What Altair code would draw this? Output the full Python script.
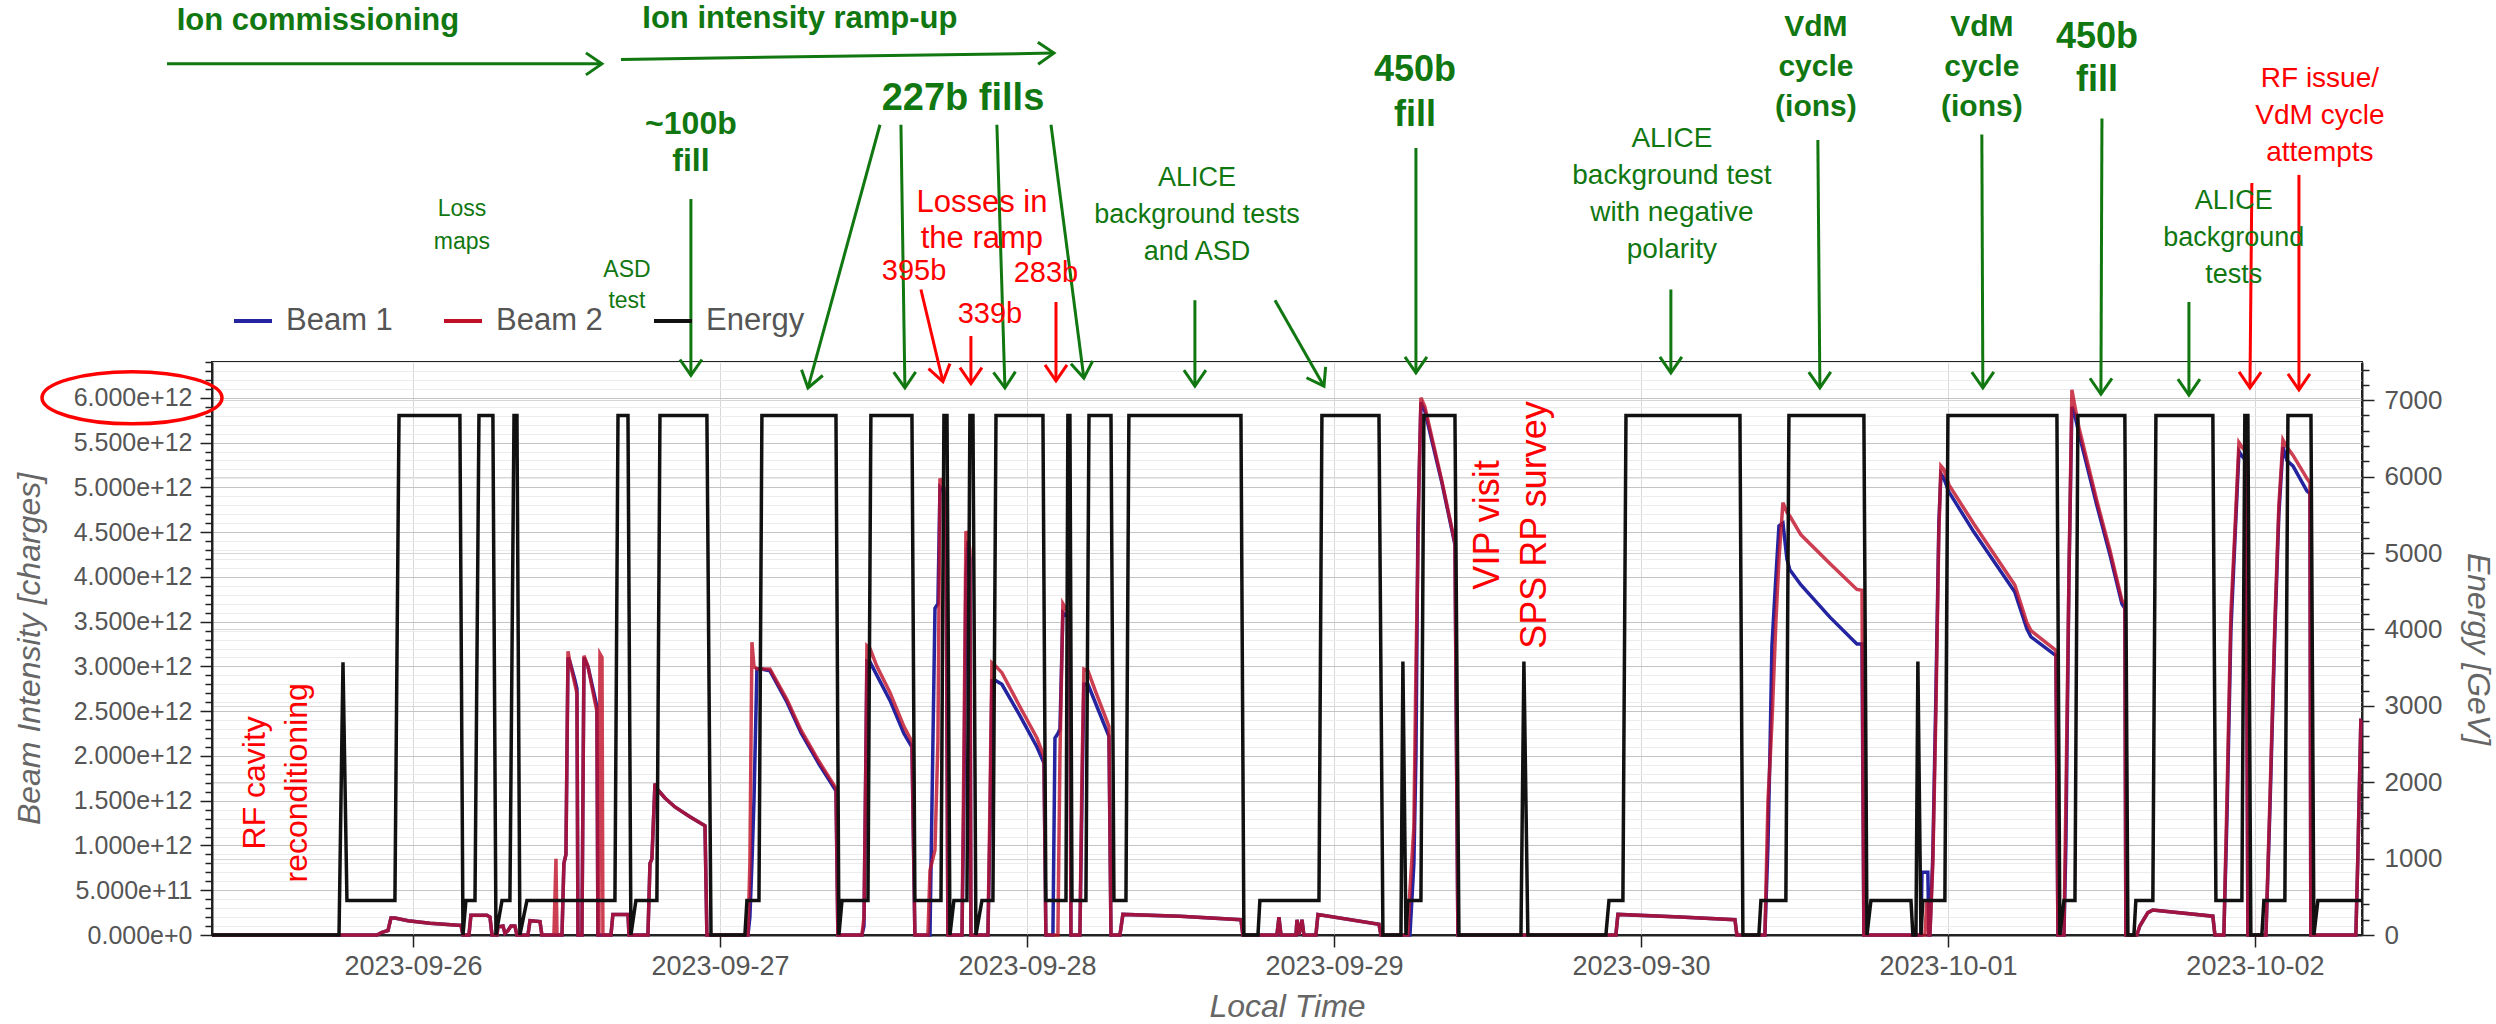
import math
import altair as alt
import pandas as pd

FONT = "Liberation Sans"
GREEN = "#117711"
RED = "#ff0000"
GREY = "#555555"

# time is stored as hours relative to 2023-09-26 00:00 (local time)
BASE = pd.Timestamp("2023-09-26 00:00:00")
X_START_H, X_END_H = -15.71, 152.37
Y_MAX_E12 = 6.4
E_MAX = 7500
W, H = 2150, 573

SERIES = ["Beam 1", "Beam 2", "Energy"]
SERIES_COLORS = ["#2424a0", "#c01028", "#111111"]

# ---------------- Energy [GeV]
E_HOURS = [-15.71, -5.78, -5.47, -5.16, -1.41, -1.09, 3.67, 3.91, 4.14, 4.85, 5.16, 6.25, 6.49, 6.96, 7.58,
           7.90, 8.13, 8.36, 8.91, 15.79, 16.03, 16.81, 17.04, 17.43, 19.07, 19.31, 22.98, 23.30, 25.95,
           26.11, 27.05, 27.28, 33.07, 33.30, 33.54, 35.57, 35.80, 39.01, 39.24, 41.28, 41.51, 41.75, 41.98,
           42.29, 43.31, 43.54, 43.78, 44.01, 44.48, 45.34, 45.58, 49.25, 49.48, 51.05, 51.20, 51.36, 51.52,
           52.61, 52.85, 54.57, 54.80, 55.74, 55.97, 64.73, 64.96, 66.06, 66.21, 70.83, 71.06, 75.52, 75.83,
           77.24, 77.39, 77.63, 77.78, 78.80, 79.03, 81.46, 81.77, 86.62, 86.85, 87.16, 93.26, 93.50, 94.59,
           94.83, 103.74, 103.97, 105.22, 105.38, 107.33, 107.57, 113.43, 113.67, 113.98, 117.11, 117.26,
           117.50, 117.65, 117.89, 118.04, 119.76, 120.00, 128.52, 128.75, 129.07, 129.93, 130.16, 133.83,
           134.07, 134.54, 134.69, 136.02, 136.26, 140.71, 140.95, 142.98, 143.21, 143.45, 143.68, 144.54,
           144.70, 146.34, 146.58, 148.38, 148.61, 148.92, 152.36]
E_GEV = [0, 0, 3570, 450, 450, 6800, 6800, 0, 450, 450, 6800, 6800, 0, 450, 450,
         6800, 6800, 0, 450, 450, 6800, 6800, 0, 450, 450, 6800, 6800, 0, 0,
         450, 450, 6800, 6800, 0, 450, 450, 6800, 6800, 450, 450, 6800, 6800, 0,
         450, 450, 6800, 6800, 0, 450, 450, 6800, 6800, 450, 450, 6800, 6800, 450,
         450, 6800, 6800, 450, 450, 6800, 6800, 0, 0, 450, 450, 6800, 6800, 0,
         0, 3580, 0, 450, 450, 6800, 6800, 0, 0, 3580, 0, 0, 450, 450,
         6800, 6800, 0, 0, 450, 450, 6800, 6800, 0, 450, 450, 0,
         0, 3580, 0, 450, 450, 6800, 6800, 0, 450, 450, 6800, 6800,
         0, 0, 450, 450, 6800, 6800, 450, 450, 6800, 6800, 0, 0,
         450, 450, 6800, 6800, 0, 450, 450]

# ---------------- Beam intensities [1e12 charges]
B_HOURS = [-15.71, -2.81, -2.42, -1.95, -1.72, -1.41, -0.39, 1.33, 3.52, 3.75, 3.91,
           4.38, 4.53, 5.78, 6.02, 6.18,
           6.57, 6.64, 7.04, 7.19, 7.43, 7.66, 7.97, 8.13,
           8.99, 9.15, 9.93, 10.08,
           11.02, 11.18, 11.26,
           11.65, 11.80, 11.96, 12.12, 12.27, 12.66, 12.82, 12.90,
           13.21, 13.37, 13.68, 14.23, 14.38, 14.46,
           14.54, 14.62, 14.78, 14.85,
           15.48, 15.63, 16.81, 16.89,
           18.37, 18.53, 18.68, 18.92, 19.15, 19.70, 20.48, 21.65, 22.83, 22.98,
           26.19, 26.34, 26.50, 26.66, 26.89, 27.28, 27.91, 29.24, 30.33, 31.74, 33.07, 33.22,
           35.10, 35.26, 35.41, 35.49, 35.73, 36.27, 37.29, 38.38, 39.01, 39.24,
           40.26, 40.42, 40.81, 41.04, 41.20, 41.51, 41.67, 41.82,
           42.92, 43.07, 43.23, 43.39, 43.54, 43.62,
           44.95, 45.11, 45.26, 45.58, 46.04, 47.45, 48.78, 49.33, 49.48,
           50.03, 50.19, 50.42, 50.58, 50.81, 51.20, 51.36, 51.44,
           52.14, 52.30, 52.45, 52.77, 53.39, 54.41, 54.57,
           55.27, 55.50, 59.96, 64.73, 64.88,
           67.54, 67.70, 67.86,
           69.03, 69.11, 69.26, 69.50, 69.65,
           70.59, 70.75, 75.52, 75.67,
           77.78, 77.94, 78.25, 78.41, 78.56, 78.64, 78.80, 79.11, 80.44, 81.46, 81.69,
           94.04, 94.20, 99.05, 103.35, 103.50,
           105.69, 105.93, 106.08, 106.24, 106.55, 106.79, 107.10, 107.41, 107.64, 108.51, 110.77, 112.88, 113.28, 113.43,
           117.89, 117.97, 118.20, 118.36, 118.43, 118.51,
           118.59, 118.82, 119.06, 119.29, 119.45, 119.68, 120.07, 122.03, 125.23, 126.17, 126.49, 128.44, 128.60,
           129.07, 129.22, 129.46, 129.69, 129.93, 130.24, 131.64, 132.66, 133.60, 133.83, 133.91,
           134.77, 135.00, 135.63, 136.02, 140.71, 140.87,
           141.57, 141.81, 142.12, 142.43, 142.75, 142.98, 143.29, 143.45,
           144.86, 145.17, 145.56, 145.87, 146.19, 146.50, 146.97, 148.06, 148.30, 148.37,
           151.89, 152.05, 152.28, 152.36]
B1_E12 = [0, 0, .03, .05, .19, .19, .16, .13, .11, .11, 0,
          0, .22, .22, .20, 0,
          0, .09, .10, .02, .05, .10, .10, 0,
          0, .16, .15, 0,
          0, 0, 0,
          0, .8, .9, 3.1, 3.05, 2.85, 2.75, 0,
          0, 3.1, 3.0, 2.65, 2.55, 0,
          0, 0, 0, 0,
          0, .23, .23, 0,
          0, .8, .85, 1.69, 1.62, 1.53, 1.43, 1.32, 1.22, 0,
          0, .2, .8, 1.5, 2.97, 2.97, 2.95, 2.6, 2.26, 1.91, 1.61, 0,
          0, .1, 2.0, 3.06, 3.05, 2.9, 2.62, 2.25, 2.10, 0,
          0, 0, 3.65, 3.7, 5.0, 4.95, 4.9, 0,
          0, 1.5, 4.0, 4.4, 4.2, 0,
          0, 1.2, 2.84, 2.84, 2.80, 2.45, 2.10, 1.92, 0,
          0, 2.2, 2.25, 2.3, 3.6, 3.55, 3.4, 0,
          0, 1.5, 2.80, 2.80, 2.58, 2.22, 0,
          0, .23, .21, .17, 0,
          0, .2, 0,
          0, .17, 0, .17, 0,
          0, .23, .12, 0,
          0, 0, .8, 2.0, 4.5, 5.0, 5.95, 5.85, 5.05, 4.36, 0,
          0, .23, .20, .17, 0,
          0, 1.0, 2.0, 3.23, 4.0, 4.57, 4.6, 4.2, 4.08, 3.91, 3.55, 3.25, 3.25, 0,
          0, .7, .7, .7, .7, 0,
          0, .9, 2.7, 4.6, 5.15, 5.1, 4.95, 4.5, 3.83, 3.42, 3.33, 3.12, 0,
          0, 1.0, 4.0, 5.9, 5.8, 5.6, 4.8, 4.25, 3.7, 3.65, 0,
          0, .1, .25, .28, .21, 0,
          0, 1.3, 3.4, 4.4, 5.4, 5.35, 5.3, 0,
          0, 1.4, 3.4, 4.7, 5.45, 5.3, 5.24, 4.96, 4.93, 0,
          0, .9, 2.4, 2.4]
B2_E12 = [0, 0, .03, .05, .19, .19, .16, .13, .11, .11, 0,
          0, .22, .22, .20, 0,
          0, .09, .10, .02, .05, .10, .10, 0,
          0, .16, .15, 0,
          0, .85, 0,
          0, .8, .9, 3.17, 3.05, 2.8, 2.7, 0,
          0, 3.12, 3.0, 2.6, 2.5, 0,
          0, 3.14, 3.1, 0,
          0, .23, .23, 0,
          0, .8, .85, 1.69, 1.62, 1.53, 1.43, 1.32, 1.22, 0,
          0, .8, 3.27, 3.0, 2.97, 2.97, 2.97, 2.63, 2.29, 1.94, 1.64, 0,
          0, .2, 2.0, 3.23, 3.2, 3.0, 2.71, 2.33, 2.16, 0,
          0, .72, .95, 2.16, 5.1, 5.0, 4.95, 0,
          0, 2.0, 4.51, 4.45, 4.3, 0,
          0, 1.5, 3.04, 3.0, 2.93, 2.55, 2.20, 1.99, 0,
          0, 0, 0, 2.0, 3.7, 3.6, 3.5, 0,
          0, 1.8, 2.97, 2.95, 2.71, 2.33, 0,
          0, .23, .21, .17, 0,
          0, .2, 0,
          0, .17, 0, .17, 0,
          0, .23, .12, 0,
          0, .5, 1.2, 3.0, 4.2, 5.0, 6.0, 5.9, 5.07, 4.38, 0,
          0, .23, .20, .17, 0,
          0, 1.5, 1.9, 2.37, 3.5, 4.2, 4.83, 4.72, 4.68, 4.47, 4.15, 3.86, 3.85, 0,
          0, 0, 0, .4, .3, 0,
          0, .8, 2.5, 4.5, 5.24, 5.2, 5.03, 4.59, 3.91, 3.49, 3.40, 3.18, 0,
          0, 1.5, 4.0, 6.09, 5.9, 5.67, 4.85, 4.3, 3.74, 3.7, 0,
          0, .1, .25, .28, .21, 0,
          0, 1.5, 3.6, 4.5, 5.5, 5.45, 5.4, 0,
          0, 1.5, 3.5, 4.8, 5.53, 5.45, 5.36, 5.1, 5.05, 0,
          0, .9, 2.4, 2.4]
assert len(B_HOURS) == len(B1_E12) == len(B2_E12)
assert len(E_HOURS) == len(E_GEV)

# ---------------- annotation arrows (tail -> tip), hours / 1e12-charge units
ARROW_TAIL_H = [-19.23, 16.26, 21.73, 36.51, 38.15, 45.65, 49.88, 39.71, 43.62, 50.27, 61.13, 67.39,
                78.41, 98.34, 109.83, 122.65, 132.04, 138.84, 143.76, 147.44]
ARROW_TAIL_I = [9.73, 9.78, 8.22, 9.05, 9.05, 9.05, 9.05, 7.21, 6.69, 7.07, 7.09, 7.09,
                8.79, 7.21, 8.88, 8.94, 9.12, 7.07, 8.40, 8.49]
ARROW_TIP_H = [14.77, 50.11, 21.73, 30.88, 38.46, 46.28, 52.45, 41.43, 43.62, 50.27, 61.13, 71.22,
               78.41, 98.34, 109.99, 122.73, 131.96, 138.84, 143.61, 147.44]
ARROW_TIP_I = [9.73, 9.85, 6.25, 6.11, 6.11, 6.11, 6.22, 6.18, 6.16, 6.19, 6.13, 6.13,
               6.28, 6.28, 6.11, 6.11, 6.04, 6.03, 6.11, 6.09]
ARROW_KIND = ["g", "g", "g", "g", "g", "g", "g", "r", "r", "r", "g", "g",
              "g", "g", "g", "g", "g", "g", "r", "r"]

# ---------------- annotation texts
TXT_LINES = [["Ion commissioning"], ["Ion intensity ramp-up"], ["~100b", "fill"], ["227b fills"],
             ["450b", "fill"], ["VdM", "cycle", "(ions)"], ["VdM", "cycle", "(ions)"], ["450b", "fill"],
             ["Loss", "maps"], ["ASD", "test"], ["ALICE", "background tests", "and ASD"],
             ["ALICE", "background test", "with negative", "polarity"], ["ALICE", "background", "tests"],
             ["Losses in", "the ramp"], ["395b"], ["339b"], ["283b"], ["RF issue/", "VdM cycle", "attempts"],
             ["RF cavity", "reconditioning"], ["VIP visit", "SPS RP survey"]]
TXT_H = [-7.43, 30.25, 21.73, 43.0, 78.33, 109.68, 122.65, 131.65,
         3.83, 16.73, 61.29, 98.42, 142.35,
         44.48, 39.17, 45.11, 49.48, 149.08,
         -10.71, 85.91]
TXT_I = [10.21, 10.23, 8.85, 9.34, 9.41, 9.70, 9.70, 9.79,
         7.93, 7.25, 8.04, 8.27, 7.78,
         7.97, 7.42, 6.94, 7.39, 9.15,
         1.70, 4.58]
TXT_SIZE = [31, 31, 32, 38, 36, 30, 30, 36,
            23, 23, 27, 28, 27,
            31, 29, 29, 29, 28,
            32, 36]
TXT_LH = [36, 36, 37, 40, 45, 40, 40, 43,
          33, 31, 37, 37, 37,
          36, 32, 32, 32, 37,
          42, 47]
TXT_KIND = ["bold", "bold", "bold", "bold", "bold", "bold", "bold", "bold",
            "green", "green", "green", "green", "green",
            "red", "red", "red", "red", "red",
            "redrot", "redrot"]

# ---------------- axis tick values
LEFT_TICKS = [k * 100000000000 for k in range(0, 65)]
RIGHT_TICKS = list(range(0, 7600, 200))

PX_PER_H = W / (X_END_H - X_START_H)
PX_PER_E12 = H / Y_MAX_E12


def to_time(hours):
    return [(BASE + pd.Timedelta(hours=float(h))).strftime("%Y-%m-%dT%H:%M:%S") for h in hours]


T0, T1 = to_time([X_START_H, X_END_H])

beam1 = pd.DataFrame({"time": to_time(B_HOURS), "value": [v * 1e12 for v in B1_E12], "series": "Beam 1"})
beam2 = pd.DataFrame({"time": to_time(B_HOURS), "value": [v * 1e12 for v in B2_E12], "series": "Beam 2"})
energy = pd.DataFrame({"time": to_time(E_HOURS), "energy": E_GEV, "series": "Energy"})

angles = []
for th, ti, ph, pi in zip(ARROW_TAIL_H, ARROW_TAIL_I, ARROW_TIP_H, ARROW_TIP_I):
    dx = (ph - th) * PX_PER_H
    dy = -(pi - ti) * PX_PER_E12
    angles.append(math.degrees(math.atan2(-dx, dy)) % 360)
arrows = pd.DataFrame({
    "time": to_time(ARROW_TAIL_H), "time2": to_time(ARROW_TIP_H),
    "value": [v * 1e12 for v in ARROW_TAIL_I], "value2": [v * 1e12 for v in ARROW_TIP_I],
    "tip_time": to_time(ARROW_TIP_H), "tip_value": [v * 1e12 for v in ARROW_TIP_I],
    "angle": angles, "kind": ARROW_KIND,
})

rows = []
for lines, h, i, s, lh, kind in zip(TXT_LINES, TXT_H, TXT_I, TXT_SIZE, TXT_LH, TXT_KIND):
    n = len(lines)
    for k, line in enumerate(lines):
        off = (k - (n - 1) / 2) * lh
        if kind == "redrot":
            hh, ii = h + off / PX_PER_H, i
        else:
            hh, ii = h, i - off / PX_PER_E12
        rows.append({"time": to_time([hh])[0], "value": ii * 1e12, "line": line, "size": s, "kind": kind})
texts = pd.DataFrame(rows)

# ---------------- encodings
MAJ_L = "datum.value % 500000000000 == 0"
MAJ_R = "datum.value % 1000 == 0"

x_axis = alt.Axis(
    title="Local Time", format="%Y-%m-%d", tickCount={"interval": "day", "step": 1},
    labelFontSize=27, labelColor=GREY, labelFont=FONT, labelPadding=6, labelFlush=False, labelOverlap=False,
    tickSize=12, tickColor="#222222", tickWidth=1.5, domainColor="#222222", domainWidth=2,
    gridColor="#d8d8d8", gridWidth=1,
    titleFontSize=32, titleFontStyle="italic", titleFontWeight="normal", titleColor="#666666", titleFont=FONT,
    titleY=71, titleBaseline="middle",
)
x_enc = alt.X("time:T", scale=alt.Scale(domain=[T0, T1]), axis=x_axis)

left_axis = alt.Axis(
    title="Beam Intensity [charges]", values=LEFT_TICKS, orient="left",
    labelExpr="datum.value % 500000000000 == 0 ? format(datum.value, '.3e') : ''",
    tickSize={"condition": {"test": MAJ_L, "value": 12}, "value": 7},
    gridColor={"condition": {"test": MAJ_L, "value": "#c4c4c4"}, "value": "#ececec"},
    grid=True, labelFontSize=25, labelColor=GREY, labelFont=FONT, labelPadding=8,
    labelOverlap=False, labelFlush=False,
    tickColor="#222222", tickWidth=1.5, domainColor="#222222", domainWidth=2,
    titleFontSize=32, titleFontStyle="italic", titleFontWeight="normal", titleColor="#666666", titleFont=FONT,
    titleX=-183, titleY=H / 2, titleAngle=270, titleAlign="center", titleBaseline="middle",
)
right_axis = alt.Axis(
    title="Energy [GeV]", values=RIGHT_TICKS, orient="right",
    labelExpr="datum.value % 1000 == 0 ? datum.value : ''",
    tickSize={"condition": {"test": MAJ_R, "value": 12}, "value": 7},
    gridOpacity={"condition": {"test": MAJ_R, "value": 1}, "value": 0},
    gridColor="#d6d6d6",
    grid=True, labelFontSize=26, labelColor=GREY, labelFont=FONT, labelPadding=10,
    labelOverlap=False, labelFlush=False,
    tickColor="#222222", tickWidth=1.5, domainColor="#222222", domainWidth=2,
    titleFontSize=32, titleFontStyle="italic", titleFontWeight="normal", titleColor="#666666", titleFont=FONT,
    titleX=115, titleY=H / 2, titleAngle=90, titleAlign="center", titleBaseline="middle",
)

y_int = alt.Y("value:Q", scale=alt.Scale(domain=[0, Y_MAX_E12 * 1e12], nice=False, zero=True), axis=left_axis)
y_ann = alt.Y("value:Q", scale=alt.Scale(domain=[0, Y_MAX_E12 * 1e12], nice=False, zero=True), axis=None)
y_en = alt.Y("energy:Q", scale=alt.Scale(domain=[0, E_MAX], nice=False, zero=True), axis=right_axis)

legend = alt.Legend(
    orient="none", legendX=20, legendY=-62, direction="horizontal", title=None,
    symbolType="stroke", symbolSize=1444, symbolStrokeWidth=4, symbolOpacity=1,
    labelFontSize=31, labelColor=GREY, labelFont=FONT, labelOffset=12, columnPadding=43, padding=0,
)
color = alt.Color("series:N", scale=alt.Scale(domain=SERIES, range=SERIES_COLORS), legend=legend)

b1_layer = alt.Chart(beam1).mark_line(strokeWidth=3.5, interpolate="linear").encode(
    x=x_enc, y=y_int, color=color, order=alt.Order("time:T"))
b2_layer = alt.Chart(beam2).mark_line(strokeWidth=3.5, opacity=0.8, interpolate="linear").encode(
    x=x_enc, y=y_int, color=color, order=alt.Order("time:T"))
beams = alt.layer(b1_layer, b2_layer)

energy_layer = alt.Chart(energy).mark_line(strokeWidth=3.5).encode(
    x=x_enc, y=y_en, color=color, order=alt.Order("time:T"))

HEAD = "M -1 -1.45 L 0 0 L 1 -1.45"
ELLIPSE = "M -1 0 A 1 0.289 0 1 0 1 0 A 1 0.289 0 1 0 -1 0 Z"

ann_layers = []
for kind, col in [("g", GREEN), ("r", RED)]:
    sub = arrows[arrows["kind"] == kind]
    ann_layers.append(alt.Chart(sub).mark_rule(color=col, strokeWidth=3).encode(
        x=x_enc, x2=alt.X2("time2:T"), y=y_ann, y2=alt.Y2("value2:Q")))
    ann_layers.append(alt.Chart(sub).mark_point(shape=HEAD, size=484, filled=False, color=col,
                                                strokeWidth=3, opacity=1).encode(
        x=alt.X("tip_time:T", scale=alt.Scale(domain=[T0, T1]), axis=x_axis),
        y=alt.Y("tip_value:Q", scale=alt.Scale(domain=[0, Y_MAX_E12 * 1e12], nice=False, zero=True), axis=None),
        angle=alt.Angle("angle:Q", scale=None)))

text_styles = {
    "bold": dict(color=GREEN, fontWeight="bold"),
    "green": dict(color=GREEN, fontWeight="normal"),
    "red": dict(color=RED, fontWeight="normal"),
    "redrot": dict(color=RED, fontWeight="normal", angle=270),
}
for kind, style in text_styles.items():
    sub = texts[texts["kind"] == kind]
    ann_layers.append(alt.Chart(sub).mark_text(font=FONT, align="center", baseline="middle", **style).encode(
        x=x_enc, y=y_ann, text="line:N", size=alt.Size("size:Q", scale=None)))

ellipse = pd.DataFrame({"value": [6e12]})
ann_layers.append(alt.Chart(ellipse).mark_point(shape=ELLIPSE, size=32400, filled=False, color=RED,
                                                strokeWidth=3.5, opacity=1).encode(
    x=alt.value(-80), y=y_ann))

annotations = alt.layer(*ann_layers)

chart = alt.layer(beams, energy_layer, annotations).resolve_scale(y="independent").properties(
    width=W, height=H,
    padding={"left": 212, "top": 362, "right": 134, "bottom": 89},
    autosize=alt.AutoSizeParams(type="none"),
).configure(font=FONT).configure_view(stroke="#222222", strokeWidth=2)

chart.save("out.html", embed_options={"renderer": "svg", "actions": False})
